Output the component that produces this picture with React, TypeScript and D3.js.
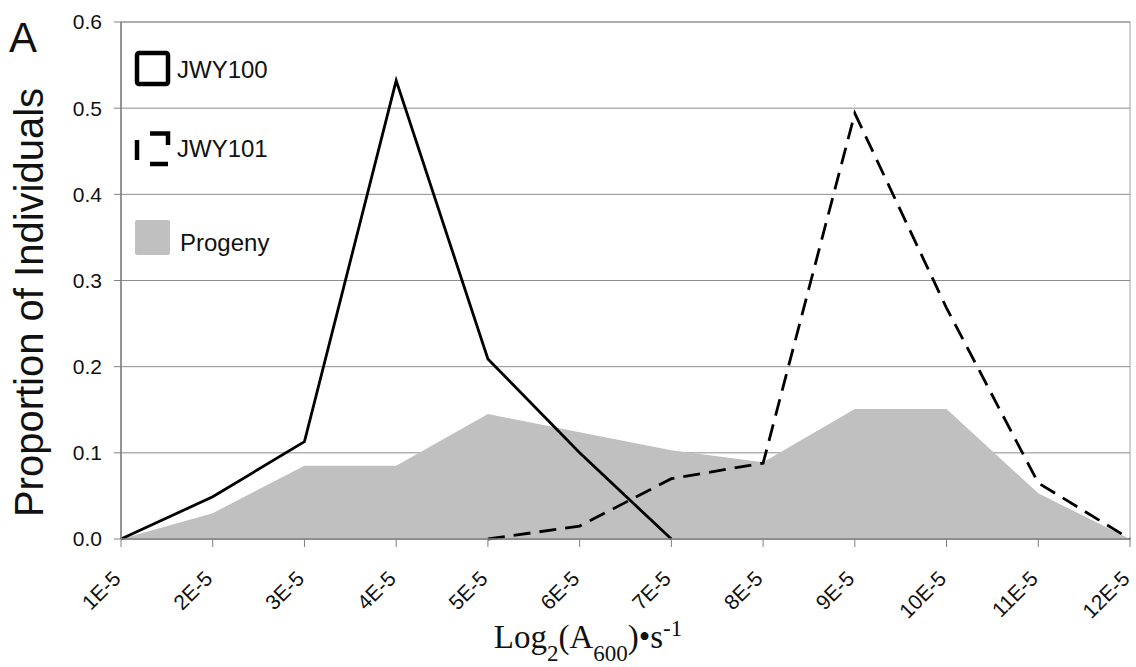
import React from "react";
import * as d3 from "d3";

const categories = ["1E-5", "2E-5", "3E-5", "4E-5", "5E-5", "6E-5", "7E-5", "8E-5", "9E-5", "10E-5", "11E-5", "12E-5"];
// null = no observation for that bin
const jwy100: (number | null)[] = [0, 0.049, 0.113, 0.532, 0.209, 0.1, 0, null, null, null, null, null];
const jwy101: (number | null)[] = [null, null, null, null, 0, 0.015, 0.07, 0.088, 0.494, 0.268, 0.065, 0];
const progeny: number[] = [0, 0.03, 0.085, 0.085, 0.145, 0.124, 0.103, 0.089, 0.151, 0.151, 0.053, 0];
const yTicks = [0, 0.1, 0.2, 0.3, 0.4, 0.5, 0.6];

const W = 1136;
const H = 667;
const left = 121;
const right = 1130;
const top = 22;
const bottom = 539;

export default function App() {
  const x = d3.scalePoint<string>().domain(categories).range([left, right]);
  const y = d3.scaleLinear().domain([0, 0.6]).range([bottom, top]);

  const area = d3
    .area<number>()
    .x((_, i) => x(categories[i])!)
    .y0(y(0))
    .y1((d) => y(d));

  const line = d3
    .line<number | null>()
    .defined((d) => d !== null)
    .x((_, i) => x(categories[i])!)
    .y((d) => y(d as number));

  const font = "'Liberation Sans', Arial, sans-serif";

  return (
    <svg
      width={W}
      height={H}
      style={{ position: "absolute", left: 0, top: 0, background: "#fff" }}
      fontFamily={font}
    >
      {/* plot frame */}
      <rect x={left} y={top} width={right - left} height={bottom - top} fill="none" stroke="#c0c0c0" strokeWidth={1.5} />

      {/* horizontal gridlines */}
      {yTicks.map((t) => (
        <line key={t} x1={left} x2={right} y1={y(t)} y2={y(t)} stroke="#8c8c8c" strokeWidth={1} />
      ))}

      {/* Progeny distribution */}
      <path d={area(progeny) ?? ""} fill="#c0c0c0" />

      {/* Parental strains */}
      <path d={line(jwy100) ?? ""} fill="none" stroke="#000" strokeWidth={2.8} strokeLinejoin="miter" />
      <path d={line(jwy101) ?? ""} fill="none" stroke="#000" strokeWidth={2.8} strokeDasharray="17,9" />

      {/* axes */}
      <line x1={left} x2={left} y1={top} y2={bottom} stroke="#808080" strokeWidth={1.5} />
      <line x1={left} x2={right} y1={bottom} y2={bottom} stroke="#808080" strokeWidth={1.5} />

      {yTicks.map((t) => (
        <g key={"yt" + t}>
          <line x1={left - 7} x2={left} y1={y(t)} y2={y(t)} stroke="#808080" strokeWidth={1} />
          <text x={left - 19} y={y(t)} dy="0.35em" textAnchor="end" fontSize={21} fill="#111">
            {t.toFixed(1)}
          </text>
        </g>
      ))}

      {categories.map((c) => (
        <g key={"xt" + c}>
          <line x1={x(c)!} x2={x(c)!} y1={bottom} y2={bottom + 8} stroke="#808080" strokeWidth={1} />
          <text
            transform={`translate(${x(c)! + 1},${bottom + 41}) rotate(-45)`}
            textAnchor="end"
            fontSize={21}
            fill="#111"
          >
            {c}
          </text>
        </g>
      ))}

      {/* axis titles */}
      <text
        transform={`translate(43,${(top + bottom) / 2 + 22}) rotate(-90)`}
        textAnchor="middle"
        fontSize={40}
        fill="#111"
      >
        Proportion of Individuals
      </text>
      <text x={588} y={648} textAnchor="middle" fontSize={33} fontFamily="'Liberation Serif', 'Times New Roman', serif" fill="#111">
        Log
        <tspan baselineShift="sub" fontSize={23}>2</tspan>
        <tspan>(A</tspan>
        <tspan baselineShift="sub" fontSize={23}>600</tspan>
        <tspan>)•s</tspan>
        <tspan baselineShift="super" fontSize={23}>-1</tspan>
      </text>

      {/* panel letter */}
      <text x={9} y={52} fontSize={42} fill="#111">A</text>

      {/* legend */}
      <rect x={137} y={53} width={31} height={31} fill="none" stroke="#000" strokeWidth={4.5} rx={2} />
      <text x={177} y={78} fontSize={24} fill="#111">JWY100</text>

      <g stroke="#000" strokeWidth={4.5} fill="none">
        <line x1={137} x2={137} y1={140} y2={160} />
        <polyline points="150,133.5 168,133.5 168,145" />
        <line x1={150} x2={168} y1={164} y2={164} />
      </g>
      <text x={177} y={157} fontSize={24} fill="#111">JWY101</text>

      <rect x={135} y={220} width={35} height={35} fill="#c0c0c0" rx={2} />
      <text x={180} y={251} fontSize={24} fill="#111">Progeny</text>
    </svg>
  );
}
